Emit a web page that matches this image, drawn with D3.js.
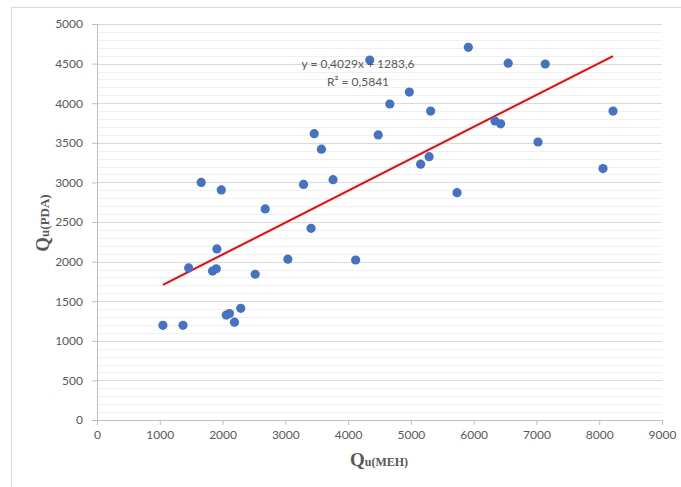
<!DOCTYPE html>
<html>
<head>
<meta charset="utf-8">
<script src="https://cdn.jsdelivr.net/npm/d3@7"></script>
<style>
  body { margin: 0; background: #fff; }
  svg { display: block; }
</style>
</head>
<body>
<div id="chart"></div>
<script>
// values
const quMEH = [1050, 1370, 1460, 1660, 1980, 1910, 1840, 1900, 2060, 2110, 2190, 2290, 2520,
    3040, 2680, 3290, 4120, 3410, 3760, 3460, 3575, 4345, 4480, 4665, 4975, 5315, 5155, 5290,
    5735, 5915, 6550, 7140, 6340, 6430, 7025, 8220, 8060];
const quPDA = [1195, 1195, 1920, 3000, 2905, 2160, 1880, 1910, 1325, 1345, 1235, 1410, 1840,
    2030, 2665, 2975, 2020, 2420, 3035, 3615, 3420, 4545, 3600, 3990, 4140, 3900, 3230, 3325,
    2870, 4705, 4505, 4495, 3775, 3740, 3510, 3900, 3175];
const xTicks = [0, 1000, 2000, 3000, 4000, 5000, 6000, 7000, 8000, 9000];
const yTicks = [0, 500, 1000, 1500, 2000, 2500, 3000, 3500, 4000, 4500, 5000];
const slope = 0.4029, intercept = 1283.6;
const eqLabel = "y = 0,4029x + 1283,6";
const r2Label = "R\u00b2 = 0,5841";

const W = 681, H = 487;
const margin = { top: 24, right: 19, bottom: 67, left: 97 };

const svg = d3.select("#chart").append("svg")
    .attr("width", W)
    .attr("height", H);

// chart frame (runs past the picture edge)
svg.append("rect")
    .attr("x", 11.5).attr("y", 7.5)
    .attr("width", 720).attr("height", 520)
    .attr("fill", "none")
    .attr("stroke", "#d9d9d9");

const x = d3.scaleLinear().domain([0, 9000]).range([margin.left, W - margin.right]);
const y = d3.scaleLinear().domain([0, 5000]).range([H - margin.bottom, margin.top]);

// minor gridlines every 100
svg.append("g")
    .selectAll("line")
    .data(d3.range(100, 5000, 100).filter(v => v % 500 !== 0))
    .join("line")
    .attr("x1", x(0)).attr("x2", x(9000))
    .attr("y1", d => Math.round(y(d)) + 0.5).attr("y2", d => Math.round(y(d)) + 0.5)
    .attr("stroke", "#f0f0f0");

// major gridlines
svg.append("g")
    .selectAll("line")
    .data(yTicks.slice(1))
    .join("line")
    .attr("x1", x(0)).attr("x2", x(9000))
    .attr("y1", d => Math.round(y(d)) + 0.5).attr("y2", d => Math.round(y(d)) + 0.5)
    .attr("stroke", "#d9d9d9");

const tickFont = "Lato, 'Open Sans', sans-serif";

const xAxis = svg.append("g")
    .attr("transform", `translate(0,${y(0)})`)
    .call(d3.axisBottom(x).tickValues(xTicks).tickSize(5).tickPadding(5).tickFormat(d3.format("d")));

const yAxis = svg.append("g")
    .attr("transform", `translate(${x(0)},0)`)
    .call(d3.axisLeft(y).tickValues(yTicks).tickSize(5).tickPadding(9).tickFormat(d3.format("d")));

[xAxis, yAxis].forEach(g => {
    g.select(".domain").attr("stroke", "#bfbfbf");
    g.selectAll(".tick line").attr("stroke", "#bfbfbf");
    g.selectAll(".tick text")
        .attr("fill", "#595959")
        .style("font-family", tickFont)
        .style("font-size", "12px");
});

// trend line over the data range
const xr = d3.extent(quMEH);
svg.append("path")
    .datum(xr)
    .attr("fill", "none")
    .attr("stroke", "#ff0000")
    .attr("stroke-width", 2)
    .attr("d", d3.line()
        .x(d => x(d))
        .y(d => y(slope * d + intercept)));

// points
svg.append("g")
    .selectAll("circle")
    .data(quMEH.map((v, i) => [v, quPDA[i]]))
    .join("circle")
    .attr("cx", d => x(d[0]))
    .attr("cy", d => y(d[1]))
    .attr("r", 4.6)
    .attr("fill", "#4472c4");

// equation
const eq = svg.append("text")
    .attr("text-anchor", "middle")
    .attr("fill", "#595959")
    .style("font-family", tickFont)
    .style("font-size", "12px");
eq.append("tspan").attr("x", 358).attr("y", 68).text(eqLabel);
eq.append("tspan").attr("x", 358).attr("y", 86).text(r2Label);

// axis titles
const titleFont = "'Liberation Serif', 'DejaVu Serif', serif";

const xt = svg.append("text")
    .attr("x", 379).attr("y", 466)
    .attr("text-anchor", "middle")
    .attr("fill", "#595959")
    .style("font-family", titleFont)
    .style("font-weight", "bold");
xt.append("tspan").style("font-size", "19px").text("Q");
xt.append("tspan").style("font-size", "12px").text("u(MEH)");

const yt = svg.append("text")
    .attr("transform", "translate(49,223) rotate(-90)")
    .attr("text-anchor", "middle")
    .attr("fill", "#595959")
    .style("font-family", titleFont)
    .style("font-weight", "bold");
yt.append("tspan").style("font-size", "19px").text("Q");
yt.append("tspan").style("font-size", "13px").text("u(PDA)");
</script>
</body>
</html>
